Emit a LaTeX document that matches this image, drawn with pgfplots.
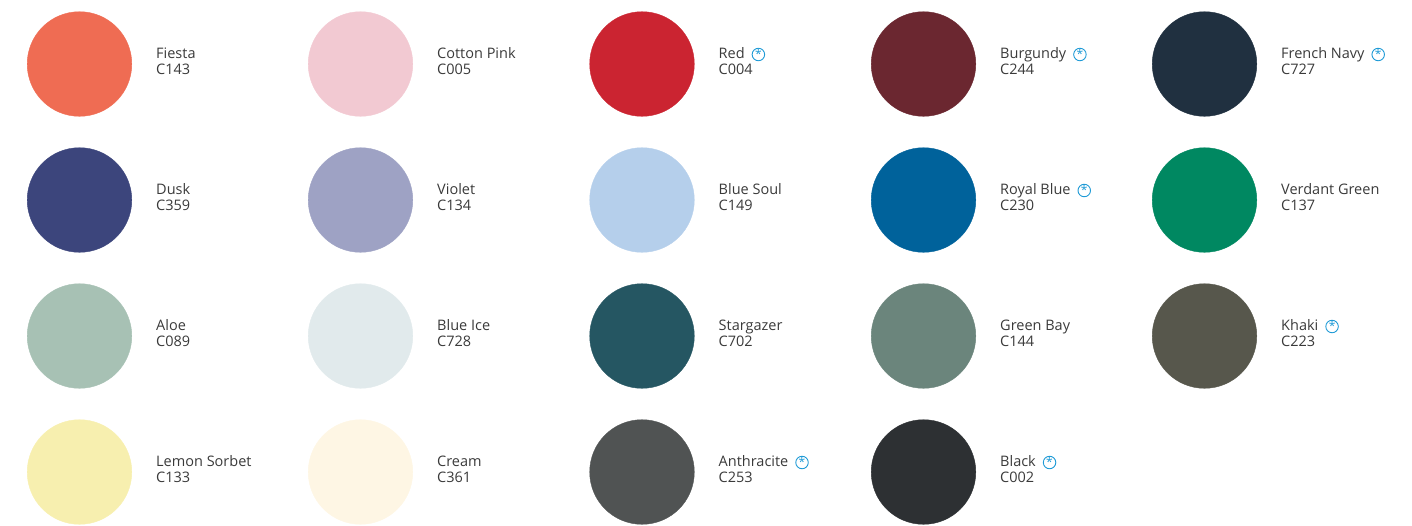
\documentclass[border=0pt]{standalone}
\usepackage{fontspec}
\setmainfont{Open Sans}
\usepackage{pgfplots}
\pgfplotsset{compat=1.18}

\definecolor{txt}{HTML}{3A3A3A}
\definecolor{starblue}{HTML}{1E9AD6}
\definecolor{cFiesta}{HTML}{EF6C53}
\definecolor{cCottonPink}{HTML}{F2C9D2}
\definecolor{cRed}{HTML}{CB2431}
\definecolor{cBurgundy}{HTML}{6B2730}
\definecolor{cFrenchNavy}{HTML}{203040}
\definecolor{cDusk}{HTML}{3C457C}
\definecolor{cViolet}{HTML}{9EA2C4}
\definecolor{cBlueSoul}{HTML}{B5CFEB}
\definecolor{cRoyalBlue}{HTML}{00629B}
\definecolor{cVerdant}{HTML}{008861}
\definecolor{cAloe}{HTML}{A7C1B4}
\definecolor{cBlueIce}{HTML}{E1EAEC}
\definecolor{cStargazer}{HTML}{255662}
\definecolor{cGreenBay}{HTML}{6B857C}
\definecolor{cKhaki}{HTML}{57574C}
\definecolor{cLemon}{HTML}{F7EFAF}
\definecolor{cCream}{HTML}{FEF6E4}
\definecolor{cAnthracite}{HTML}{505353}
\definecolor{cBlack}{HTML}{2D3033}

% swatch: x, y, colour, name, code
\newcommand{\swatch}[5]{%
  \addplot[only marks, mark=*, mark size=52.3pt, color=#3] coordinates {(#1,#2)};
  \node[anchor=base west, inner sep=0pt, text=txt] (n#5) at (axis cs:#1+76.5,#2-6) {#4};
  \node[anchor=base west, inner sep=0pt, text=txt] at (axis cs:#1+76.5,#2+10.5) {#5};
}
\newcommand{\swatchS}[5]{%
  \swatch{#1}{#2}{#3}{#4}{#5}
  \node[circle, draw=starblue, line width=0.9pt, minimum size=12.5pt, inner sep=0pt,
    text=starblue, font=\fontsize{12}{12}\selectfont]
    at ([xshift=13.5pt, yshift=3.5pt]n#5.base east) {\raisebox{-4pt}[0pt][0pt]{*}};
}

\begin{document}
\begin{tikzpicture}
\begin{axis}[
  width=1412pt, height=525pt, scale only axis,
  xmin=0, xmax=1412, ymin=0, ymax=525, y dir=reverse,
  hide axis, clip=false,
  font=\fontsize{14.5}{16}\selectfont,
]
\path (axis cs:0,0) rectangle (axis cs:1412,525);
% row 1
\swatch{79.5}{64}{cFiesta}{Fiesta}{C143}
\swatch{360.5}{64}{cCottonPink}{Cotton Pink}{C005}
\swatchS{642}{64}{cRed}{Red}{C004}
\swatchS{923.5}{64}{cBurgundy}{Burgundy}{C244}
\swatchS{1204.5}{64}{cFrenchNavy}{French Navy}{C727}
% row 2
\swatch{79.5}{200}{cDusk}{Dusk}{C359}
\swatch{360.5}{200}{cViolet}{Violet}{C134}
\swatch{642}{200}{cBlueSoul}{Blue Soul}{C149}
\swatchS{923.5}{200}{cRoyalBlue}{Royal Blue}{C230}
\swatch{1204.5}{200}{cVerdant}{Verdant Green}{C137}
% row 3
\swatch{79.5}{336}{cAloe}{Aloe}{C089}
\swatch{360.5}{336}{cBlueIce}{Blue Ice}{C728}
\swatch{642}{336}{cStargazer}{Stargazer}{C702}
\swatch{923.5}{336}{cGreenBay}{Green Bay}{C144}
\swatchS{1204.5}{336}{cKhaki}{Khaki}{C223}
% row 4
\swatch{79.5}{472}{cLemon}{Lemon Sorbet}{C133}
\swatch{360.5}{472}{cCream}{Cream}{C361}
\swatchS{642}{472}{cAnthracite}{Anthracite}{C253}
\swatchS{923.5}{472}{cBlack}{Black}{C002}
\end{axis}
\end{tikzpicture}
\end{document}
